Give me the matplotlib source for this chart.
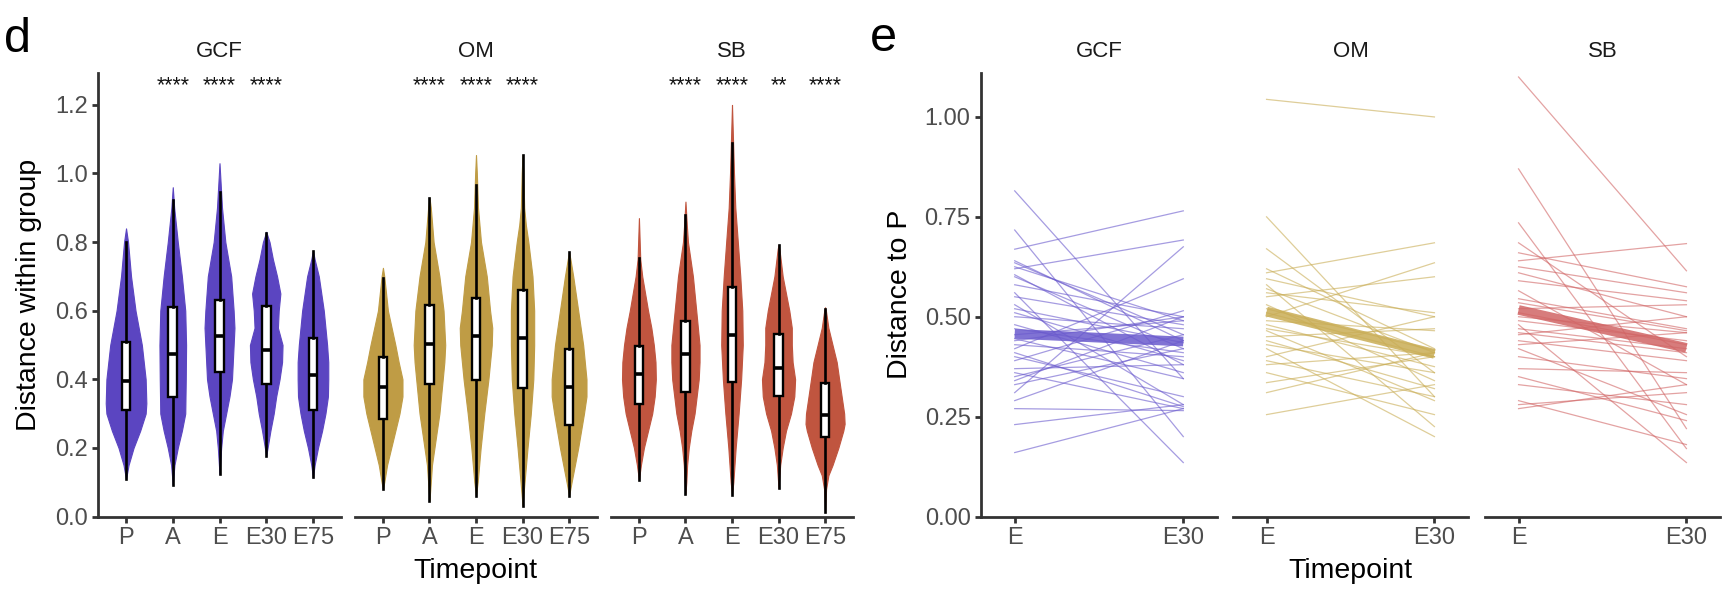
import matplotlib
matplotlib.use("Agg")
import matplotlib.pyplot as plt
import numpy as np

plt.rcParams['font.family'] = ['Liberation Sans', 'DejaVu Sans']

# ---------------- data ----------------
timepoints = ["P", "A", "E", "E30", "E75"]
groups = ["GCF", "OM", "SB"]
violin_colors = ["#5B45C1", "#BF9C45", "#C0553F"]
line_colors = ["#6A5ACD", "#C9AD55", "#D16565"]

# box stats per timepoint: (whisker low, q1, median, q3, whisker high)
gcf_box = [(0.109, 0.31, 0.395, 0.509, 0.80), (0.093, 0.347, 0.475, 0.61, 0.923),
           (0.124, 0.422, 0.526, 0.632, 0.947), (0.177, 0.387, 0.484, 0.613, 0.826),
           (0.114, 0.31, 0.413, 0.519, 0.773)]
om_box = [(0.08, 0.284, 0.378, 0.465, 0.695), (0.046, 0.385, 0.504, 0.618, 0.93),
          (0.061, 0.397, 0.526, 0.637, 0.967), (0.032, 0.374, 0.519, 0.661, 1.054),
          (0.061, 0.267, 0.378, 0.487, 0.771)]
sb_box = [(0.107, 0.327, 0.415, 0.497, 0.754), (0.066, 0.363, 0.473, 0.569, 0.879),
          (0.064, 0.393, 0.529, 0.668, 1.09), (0.083, 0.352, 0.432, 0.533, 0.792),
          (0.013, 0.232, 0.296, 0.39, 0.606)]

# violin outlines: (value, full width in category units)
gcf_violin = [
    [(0.84, 0), (0.80, .085), (0.70, .214), (0.60, .406), (0.50, .677), (0.40, .84), (0.33, .869),
     (0.30, .84), (0.25, .605), (0.20, .321), (0.15, .107), (0.109, 0)],
    [(0.96, 0), (0.90, .06), (0.80, .214), (0.70, .39), (0.60, .534), (0.50, .57), (0.40, .556),
     (0.30, .534), (0.25, .39), (0.20, .214), (0.15, .071), (0.093, 0)],
    [(1.03, 0), (0.90, .107), (0.80, .25), (0.70, .5), (0.60, .605), (0.55, .64), (0.50, .605),
     (0.40, .534), (0.35, .427), (0.30, .285), (0.25, .142), (0.20, .071), (0.124, 0)],
    [(0.83, 0), (0.80, .142), (0.75, .285), (0.70, .463), (0.65, .605), (0.60, .534), (0.55, .5),
     (0.50, .698), (0.45, .677), (0.40, .57), (0.35, .427), (0.30, .32), (0.25, .178), (0.20, .057),
     (0.177, 0)],
    [(0.775, 0), (0.75, .071), (0.70, .25), (0.60, .463), (0.50, .605), (0.45, .655), (0.40, .655),
     (0.35, .64), (0.30, .534), (0.25, .39), (0.20, .214), (0.15, .071), (0.114, 0)],
]
om_violin = [
    [(0.725, 0), (0.70, .057), (0.60, .214), (0.50, .534), (0.45, .677), (0.40, .84), (0.35, .84),
     (0.30, .712), (0.25, .534), (0.20, .356), (0.15, .178), (0.10, .057), (0.08, 0)],
    [(0.93, 0), (0.90, .057), (0.80, .178), (0.70, .427), (0.60, .605), (0.50, .677), (0.45, .64),
     (0.40, .57), (0.30, .427), (0.25, .32), (0.20, .214), (0.15, .107), (0.10, .057), (0.046, 0)],
    [(1.054, 0), (1.0, .036), (0.90, .085), (0.80, .214), (0.70, .463), (0.60, .605), (0.55, .698),
     (0.50, .677), (0.40, .534), (0.30, .356), (0.20, .2), (0.10, .071), (0.061, 0)],
    [(1.054, 0), (1.0, .036), (0.90, .071), (0.85, .142), (0.80, .25), (0.70, .427), (0.60, .5),
     (0.50, .5), (0.40, .463), (0.30, .356), (0.20, .214), (0.10, .085), (0.032, 0)],
    [(0.771, 0), (0.75, .057), (0.70, .178), (0.60, .392), (0.50, .605), (0.40, .748), (0.35, .748),
     (0.30, .64), (0.20, .392), (0.15, .25), (0.10, .107), (0.061, 0)],
]
sb_violin = [
    [(0.87, 0), (0.75, .057), (0.70, .142), (0.60, .392), (0.55, .534), (0.50, .64), (0.45, .712),
     (0.40, .727), (0.35, .677), (0.30, .57), (0.25, .392), (0.20, .214), (0.15, .085), (0.107, 0)],
    [(0.918, 0), (0.85, .057), (0.80, .107), (0.70, .32), (0.60, .463), (0.50, .605), (0.45, .605),
     (0.40, .57), (0.30, .392), (0.25, .25), (0.20, .142), (0.15, .071), (0.10, .036), (0.066, 0)],
    [(1.20, 0), (1.15, .021), (1.0, .085), (0.90, .142), (0.80, .25), (0.70, .356), (0.60, .442),
     (0.50, .463), (0.40, .392), (0.30, .285), (0.20, .157), (0.10, .057), (0.064, 0)],
    [(0.792, 0), (0.78, .036), (0.70, .178), (0.65, .32), (0.60, .463), (0.55, .57), (0.50, .57),
     (0.45, .605), (0.40, .712), (0.35, .677), (0.30, .534), (0.25, .32), (0.20, .178), (0.15, .071),
     (0.083, 0)],
    [(0.61, 0), (0.60, .036), (0.55, .142), (0.50, .32), (0.45, .5), (0.40, .605), (0.35, .712),
     (0.30, .82), (0.27, .84), (0.25, .783), (0.20, .57), (0.15, .32), (0.12, .142), (0.08, .043),
     (0.013, 0)],
]

gcf_stars = ["", "****", "****", "****", ""]
om_stars = ["", "****", "****", "****", ""]
sb_stars = ["", "****", "****", "**", "****"]

# panel e: paired distances to P (E, E30)
paired_timepoints = ["E", "E30"]
gcf_pairs = [(0.815, 0.345), (0.717, 0.200), (0.669, 0.765), (0.640, 0.440), (0.635, 0.455),
             (0.620, 0.692), (0.600, 0.420), (0.580, 0.500), (0.560, 0.135), (0.550, 0.480),
             (0.530, 0.280), (0.510, 0.390), (0.500, 0.470), (0.480, 0.360), (0.455, 0.490),
             (0.430, 0.400), (0.420, 0.595), (0.400, 0.300), (0.390, 0.515), (0.370, 0.380),
             (0.360, 0.270), (0.340, 0.500), (0.330, 0.420), (0.310, 0.675), (0.290, 0.440),
             (0.270, 0.265), (0.230, 0.280), (0.160, 0.270), (0.625, 0.490), (0.605, 0.380),
             (0.470, 0.410), (0.445, 0.345), (0.350, 0.455), (0.410, 0.275), (0.520, 0.435),
             (0.440, 0.500)]
om_pairs = [(1.044, 1.000), (0.750, 0.300), (0.670, 0.360), (0.620, 0.420), (0.610, 0.685),
            (0.595, 0.500), (0.580, 0.225), (0.560, 0.510), (0.550, 0.600), (0.530, 0.340),
            (0.510, 0.400), (0.500, 0.635), (0.480, 0.375), (0.465, 0.290), (0.450, 0.470),
            (0.440, 0.320), (0.420, 0.200), (0.400, 0.500), (0.380, 0.410), (0.360, 0.255),
            (0.335, 0.400), (0.310, 0.410), (0.255, 0.330), (0.490, 0.465), (0.430, 0.360),
            (0.470, 0.400), (0.570, 0.410), (0.390, 0.300), (0.520, 0.415)]
sb_pairs = [(1.100, 0.615), (0.870, 0.220), (0.735, 0.170), (0.685, 0.400), (0.660, 0.575),
            (0.640, 0.683), (0.625, 0.560), (0.590, 0.540), (0.565, 0.330), (0.545, 0.470),
            (0.520, 0.530), (0.500, 0.460), (0.480, 0.135), (0.470, 0.420), (0.455, 0.500),
            (0.440, 0.390), (0.420, 0.255), (0.400, 0.345), (0.370, 0.360), (0.350, 0.240),
            (0.330, 0.280), (0.290, 0.180), (0.280, 0.310), (0.270, 0.330), (0.510, 0.430),
            (0.490, 0.440), (0.430, 0.460), (0.460, 0.410), (0.610, 0.500), (0.535, 0.465)]
mean_pairs = [(0.457, 0.438), (0.513, 0.407), (0.517, 0.422)]

d_yticks = [0.0, 0.2, 0.4, 0.6, 0.8, 1.0, 1.2]
e_yticks = [0.0, 0.25, 0.5, 0.75, 1.0]
e_yticklabels = ["0.00", "0.25", "0.50", "0.75", "1.00"]

# ---------------- figure ----------------
W, H = 1732, 589
fig = plt.figure(figsize=(W / 100, H / 100), dpi=100)
AX_TOP, AX_BOT = 73, 516.5

def make_ax(x0, x1):
    return fig.add_axes([x0 / W, (H - AX_BOT) / H, (x1 - x0) / W, (AX_BOT - AX_TOP) / H])

TICK_COL = "#4D4D4D"
LINE_COL = "#333333"

def style(ax, show_y):
    for s in ["top", "right"]:
        ax.spines[s].set_visible(False)
    ax.spines["bottom"].set_linewidth(2.0)
    ax.spines["bottom"].set_color(LINE_COL)
    ax.spines["left"].set_linewidth(2.0)
    ax.spines["left"].set_color(LINE_COL)
    ax.tick_params(axis="both", direction="out", length=4.5, width=2.0, color=LINE_COL,
                   labelsize=17, labelcolor=TICK_COL, pad=3)
    if not show_y:
        ax.spines["left"].set_visible(False)
        ax.tick_params(axis="y", left=False, labelleft=False)
    ax.set_facecolor("none")

d_ranges = [(98, 341), (355, 597), (611, 853)]
e_ranges = [(981, 1217), (1233, 1468), (1485, 1720)]
boxes = [gcf_box, om_box, sb_box]
violins = [gcf_violin, om_violin, sb_violin]
stars = [gcf_stars, om_stars, sb_stars]
pairs = [gcf_pairs, om_pairs, sb_pairs]

for gi, (x0, x1) in enumerate(d_ranges):
    ax = make_ax(x0, x1)
    pos = np.arange(1, len(timepoints) + 1)
    for ti, prof in enumerate(violins[gi]):
        yv = np.array([p[0] for p in prof])
        wv = np.array([p[1] for p in prof]) / 2.0
        ax.fill_betweenx(yv, pos[ti] - wv, pos[ti] + wv, facecolor=violin_colors[gi],
                         edgecolor=violin_colors[gi], linewidth=0.8, zorder=1)
    stats = [dict(whislo=b[0], q1=b[1], med=b[2], q3=b[3], whishi=b[4], fliers=[])
             for b in boxes[gi]]
    ax.bxp(stats, positions=pos, widths=0.19, showcaps=False, showfliers=False,
           patch_artist=True, manage_ticks=False,
           boxprops=dict(facecolor="white", edgecolor="black", linewidth=1.7),
           medianprops=dict(color="black", linewidth=2.6),
           whiskerprops=dict(color="black", linewidth=1.9), zorder=3)
    for ti, s in enumerate(stars[gi]):
        if s:
            ax.text(pos[ti], 1.24, s, ha="center", va="baseline", fontsize=15.5, color="#111111")
    ax.set_xlim(0.4, 5.6)
    ax.set_ylim(0, 1.293)
    ax.set_xticks(pos)
    ax.set_xticklabels(timepoints)
    ax.set_yticks(d_yticks)
    ax.set_yticklabels([f"{v:.1f}" for v in d_yticks])
    style(ax, gi == 0)
    fig.text((x0 + x1) / 2 / W, (H - 57) / H, groups[gi], ha="center", va="baseline",
             fontsize=16, color="#1A1A1A")
    if gi == 0:
        ax.set_ylabel("Distance within group", fontsize=20.5, color="black", labelpad=9)

for gi, (x0, x1) in enumerate(e_ranges):
    ax = make_ax(x0, x1)
    xs = np.arange(1, len(paired_timepoints) + 1)
    for a, b in pairs[gi]:
        ax.plot(xs, [a, b], color=line_colors[gi], linewidth=0.9, alpha=0.6, zorder=2)
    m = mean_pairs[gi]
    ax.plot(xs, list(m), color=line_colors[gi], linewidth=7, alpha=0.85, zorder=3,
            solid_capstyle="butt")
    ax.set_xlim(0.8, 2.2)
    ax.set_ylim(0, 1.11)
    ax.set_xticks(xs)
    ax.set_xticklabels(paired_timepoints)
    ax.set_yticks(e_yticks)
    ax.set_yticklabels(e_yticklabels)
    style(ax, gi == 0)
    fig.text((x0 + x1) / 2 / W, (H - 57) / H, groups[gi], ha="center", va="baseline",
             fontsize=16, color="#1A1A1A")
    if gi == 0:
        ax.set_ylabel("Distance to P", fontsize=20.5, color="black", labelpad=8)

fig.text((98 + 853) / 2 / W, (H - 578) / H, "Timepoint", ha="center", va="baseline",
         fontsize=20.5, color="black")
fig.text((981 + 1720) / 2 / W, (H - 578) / H, "Timepoint", ha="center", va="baseline",
         fontsize=20.5, color="black")
fig.text(4 / W, (H - 52) / H, "d", ha="left", va="baseline", fontsize=35, color="black")
fig.text(870 / W, (H - 51) / H, "e", ha="left", va="baseline", fontsize=35, color="black")

fig.savefig("out.png", dpi=100, facecolor="white")
